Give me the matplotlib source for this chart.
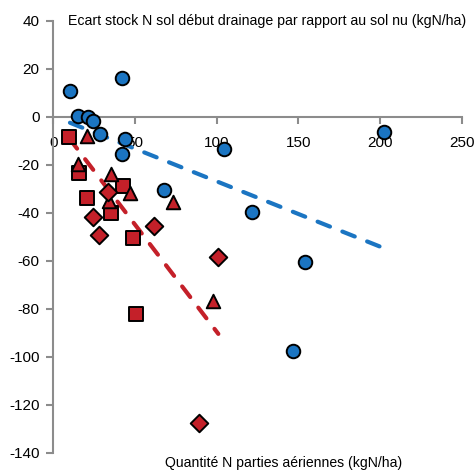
import numpy as np
import matplotlib.pyplot as plt

plt.rcParams['axes.unicode_minus'] = False
plt.rcParams['font.family'] = 'Liberation Sans'

# Blue series: circles
circ_x = [10.2, 14.9, 21.4, 24.5, 28.6, 42.0, 44.1, 42.2, 67.9, 104.5, 121.4, 153.9, 146.5, 202.6]
circ_y = [10.9, 0.3, 0.0, -1.8, -7.2, 16.1, -9.2, -15.5, -30.5, -13.3, -39.8, -60.4, -97.8, -6.3]

# Red series: squares, triangles, diamonds
sq_x = [9.6, 15.9, 20.8, 35.3, 42.5, 49.0, 50.6]
sq_y = [-8.3, -23.6, -33.7, -40.3, -28.7, -50.5, -82.2]
tri_x = [20.4, 14.9, 35.3, 46.9, 34.1, 73.4, 97.5]
tri_y = [-8.0, -19.5, -23.9, -31.7, -35.1, -35.4, -76.8]
dia_x = [24.5, 27.9, 61.8, 33.7, 101.0, 89.4]
dia_y = [-41.7, -49.3, -45.5, -31.3, -58.3, -127.5]

# linear trends (slope, intercept)
blue_trend = (-0.272, 0.27)
red_trend = (-0.893, -0.3)

blue = '#1B75C2'
red = '#C42029'
grey = '#8C8C8C'

fig = plt.figure(figsize=(4.75, 4.73), dpi=100)
ax = fig.add_axes([0.1122, 0.0429, 0.86, 0.9133])

xs = np.array([min(circ_x), max(circ_x)])
ax.plot(xs, blue_trend[0] * xs + blue_trend[1], color=blue, lw=3,
        dashes=(3.2, 3.2), dash_capstyle='round', zorder=2)

red_x = sq_x + tri_x + dia_x
xs = np.array([min(red_x), max(red_x)])
ax.plot(xs, red_trend[0] * xs + red_trend[1], color=red, lw=3,
        dashes=(3.2, 3.2), dash_capstyle='round', zorder=2)

kw = dict(edgecolors='black', linewidths=1.4, zorder=3)
ax.scatter(circ_x, circ_y, s=95, marker='o', color=blue, **kw)
ax.scatter(sq_x, sq_y, s=90, marker='s', color=red, **kw)
ax.scatter(tri_x, tri_y, s=95, marker='^', color=red, **kw)
ax.scatter(dia_x, dia_y, s=80, marker='D', color=red, **kw)

ax.set_xlim(0, 250)
ax.set_ylim(-140, 40)
ax.set_xticks(np.arange(0, 251, 50))
ax.set_yticks(np.arange(-140, 41, 20))

for s in ['top', 'right']:
    ax.spines[s].set_visible(False)
ax.spines['bottom'].set_position(('data', 0))
for s in ['left', 'bottom']:
    ax.spines[s].set_color(grey)
    ax.spines[s].set_linewidth(1.5)
ax.tick_params(colors=grey, width=1.5, length=5, direction='out',
               labelcolor='black', labelsize=11)
ax.tick_params(axis='x', pad=9)
ax.tick_params(axis='y', pad=5)

ax.text(0.037, 1.0, 'Ecart stock N sol début drainage par rapport au sol nu (kgN/ha)',
        transform=ax.transAxes, ha='left', va='center', fontsize=10.2)
ax.text(0.563, -0.024, 'Quantité N parties aériennes (kgN/ha)',
        transform=ax.transAxes, ha='center', va='center', fontsize=10.1)

fig.savefig('out.png', dpi=100)
